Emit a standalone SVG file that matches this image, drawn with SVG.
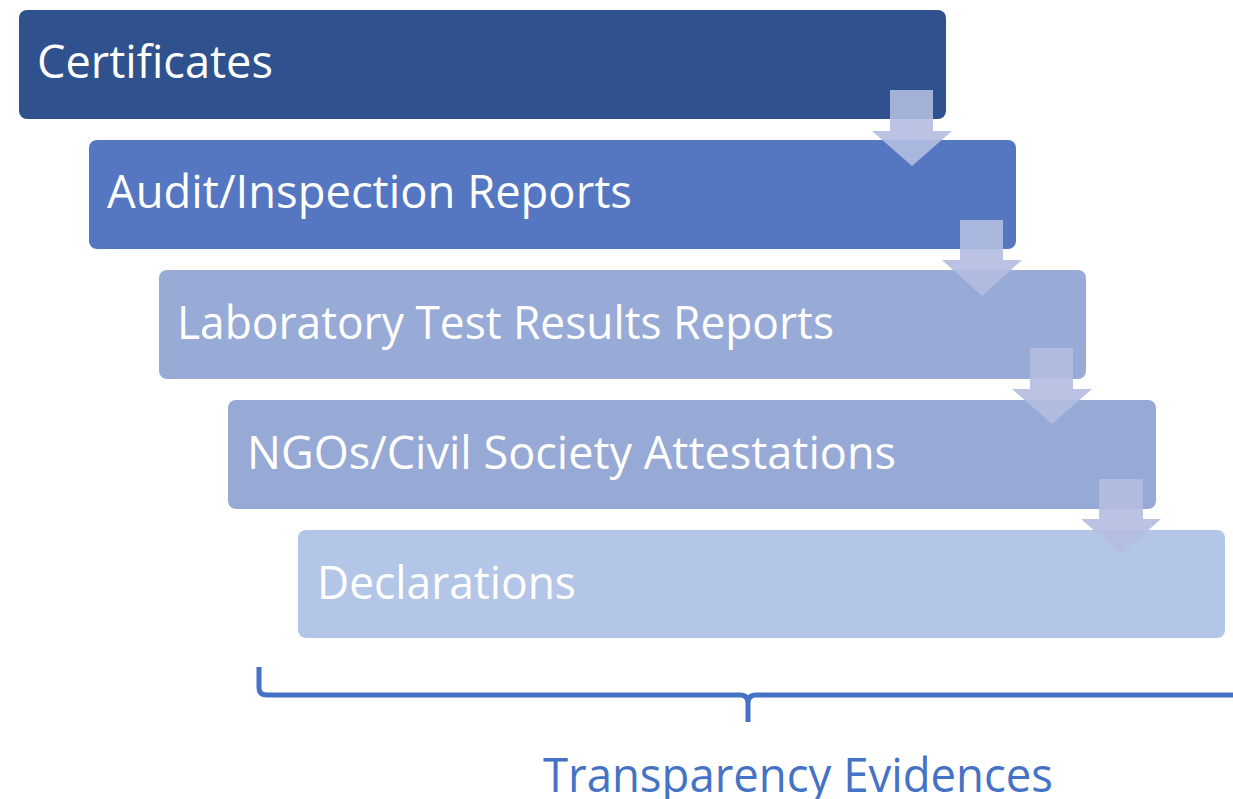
<svg xmlns="http://www.w3.org/2000/svg" width="1233" height="799" viewBox="0 0 1233 799">
<style>
.box{stroke:none}
.lbl{font-family:"Open Sans","Liberation Sans",sans-serif;font-size:46px;fill:#ffffff}
.arrow{fill:#B2BDE0;fill-opacity:0.9;stroke:none}
.brace{fill:none;stroke:#4472C4;stroke-width:5;stroke-linejoin:round;stroke-linecap:butt}
.cap{font-family:"Open Sans","Liberation Sans",sans-serif;font-size:48px;fill:#4472C4}
</style>
<rect width="1233" height="799" fill="#ffffff"/>
<g id="node-certificates">
<rect class="box" x="19" y="10" width="927" height="109" rx="8" fill="#2F528F"/>
<text class="lbl" x="37" y="78" textLength="236" lengthAdjust="spacingAndGlyphs">Certificates</text>
</g>
<g id="node-audit">
<rect class="box" x="89" y="140" width="927" height="109" rx="8" fill="#5577C1"/>
<text class="lbl" x="107" y="208" textLength="525" lengthAdjust="spacingAndGlyphs">Audit/Inspection Reports</text>
</g>
<g id="node-lab">
<rect class="box" x="159" y="270" width="927" height="109" rx="8" fill="#98AAD6"/>
<text class="lbl" x="177" y="339" textLength="657" lengthAdjust="spacingAndGlyphs">Laboratory Test Results Reports</text>
</g>
<g id="node-ngo">
<rect class="box" x="228" y="400" width="928" height="109" rx="8" fill="#97A9D5"/>
<text class="lbl" x="247" y="469" textLength="649" lengthAdjust="spacingAndGlyphs">NGOs/Civil Society Attestations</text>
</g>
<g id="node-declarations">
<rect class="box" x="298" y="530" width="927" height="108" rx="8" fill="#B4C6E7"/>
<text class="lbl" x="317" y="599" textLength="259" lengthAdjust="spacingAndGlyphs">Declarations</text>
</g>
<g id="connectors">
<path class="arrow" d="M890,90 H933 V131 H952 L912,166 L872,131 H890 Z"/>
<path class="arrow" d="M960,220 H1003 V260 H1022 L982,296 L942,260 H960 Z"/>
<path class="arrow" d="M1030,348 H1073 V389 H1092 L1052,424 L1012,389 H1030 Z"/>
<path class="arrow" d="M1099,479 H1143 V519 H1161 L1121,554 L1081,519 H1099 Z"/>
</g>
<g id="brace">
<path class="brace" d="M259,667 L259,688 Q259,695 267,695 L740,695 Q748,695 748,703 L748,722 M748,703 Q748,695 756,695 L1240,695"/>
<text class="cap" x="543" y="792" textLength="510" lengthAdjust="spacingAndGlyphs">Transparency Evidences</text>
</g>
</svg>
